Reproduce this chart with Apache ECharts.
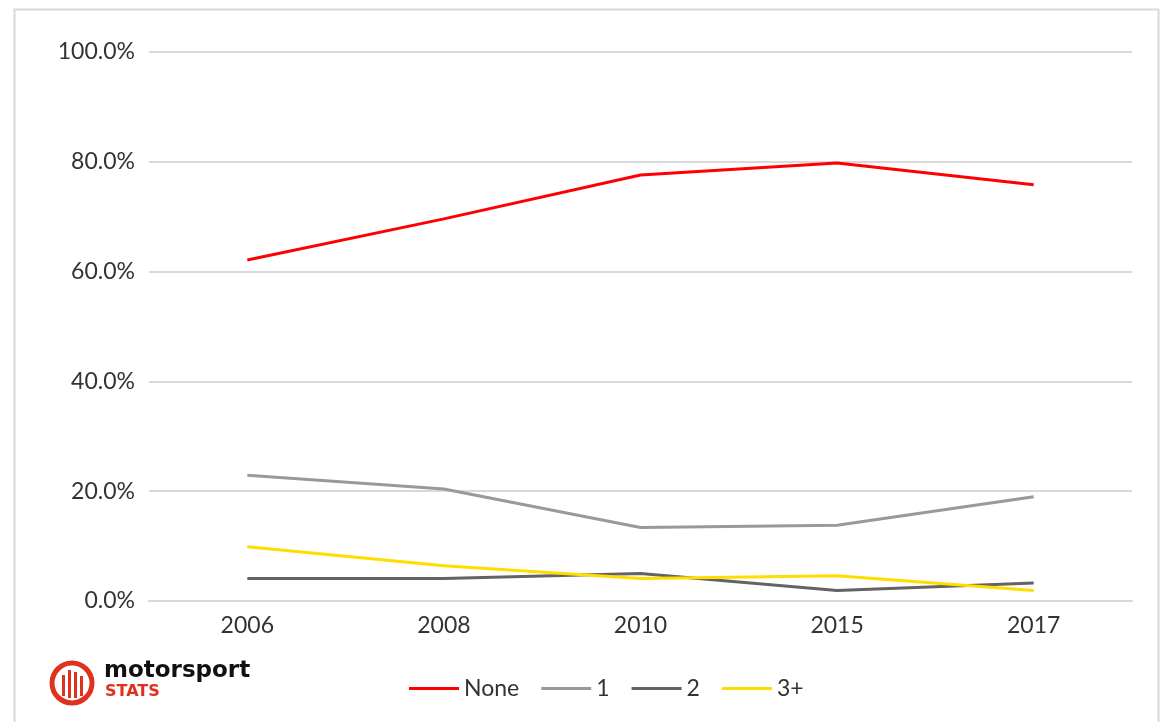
<!DOCTYPE html>
<html>
<head>
<meta charset="utf-8">
<script src="https://cdn.jsdelivr.net/npm/echarts@6/dist/echarts.min.js"></script>
<style>
html,body{margin:0;padding:0;background:#fff;}
#c{width:1163px;height:722px;}
</style>
</head>
<body>
<div id="c"></div>
<script>
const years = ['2006', '2008', '2010', '2015', '2017'];
const seriesNames = ['None', '1', '2', '3+'];
const noneVals = [62.1, 69.6, 77.6, 79.8, 75.8];
const oneVals = [22.9, 20.4, 13.4, 13.8, 19.0];
const twoVals = [4.1, 4.1, 5.0, 1.9, 3.3];
const threePlusVals = [9.9, 6.4, 4.1, 4.6, 1.9];
const colors = ['#ff0000', '#999999', '#636363', '#ffdd00'];

const FONT = 'Lato, sans-serif';
const chart = echarts.init(document.getElementById('c'), null, {renderer: 'canvas'});
const dataSets = [noneVals, oneVals, twoVals, threePlusVals];

chart.setOption({
  animation: false,
  backgroundColor: '#ffffff',
  color: colors,
  textStyle: {fontFamily: FONT},
  grid: {left: 149, right: 31, top: 52, bottom: 121, containLabel: false},
  legend: {
    data: seriesNames,
    left: 404, top: 672,
    itemWidth: 50, itemHeight: 3, itemGap: 22,
    icon: 'rect',
    textStyle: {fontSize: 23, color: '#333', fontFamily: FONT}
  },
  xAxis: {
    type: 'category',
    data: years,
    boundaryGap: true,
    axisLine: {show: true, lineStyle: {color: '#d9d9d9', width: 2}},
    axisTick: {show: false},
    axisLabel: {fontSize: 23, color: '#333', margin: 13, fontFamily: FONT}
  },
  yAxis: {
    type: 'value',
    min: 0, max: 100, interval: 20,
    axisLine: {show: false},
    axisTick: {show: false},
    splitLine: {lineStyle: {color: '#d9d9d9', width: 2}},
    axisLabel: {fontSize: 23, color: '#333', margin: 14, fontFamily: FONT,
      formatter: v => v.toFixed(1) + '%'}
  },
  series: seriesNames.map((n, i) => ({
    name: n,
    type: 'line',
    data: dataSets[i],
    symbol: 'none',
    lineStyle: {width: 3, color: colors[i]},
    itemStyle: {color: colors[i]}
  })),
  graphic: [
    {type: 'rect', shape: {x: 14.5, y: 9.5, width: 1144, height: 730}, style: {fill: null, stroke: '#d9d9d9', lineWidth: 2}, silent: true, z: -1},
    {type: 'circle', shape: {cx: 72, cy: 683, r: 20}, style: {fill: null, stroke: '#e0301e', lineWidth: 5}},
    {type: 'rect', shape: {x: 62, y: 675, width: 3, height: 21}, style: {fill: '#e0301e'}},
    {type: 'rect', shape: {x: 68, y: 670, width: 3, height: 28}, style: {fill: '#e0301e'}},
    {type: 'rect', shape: {x: 74, y: 672, width: 3, height: 26}, style: {fill: '#e0301e'}},
    {type: 'rect', shape: {x: 80, y: 676, width: 3, height: 20}, style: {fill: '#e0301e'}},
    {type: 'text', left: 104, top: 660, style: {text: 'motorsport', fontSize: 23, fontWeight: 'bold', fill: '#111', fontFamily: '"DejaVu Sans", sans-serif'}},
    {type: 'text', left: 105, top: 684, style: {text: 'STATS', fontSize: 16, fontWeight: 'bold', fill: '#e0301e', fontFamily: '"DejaVu Sans", sans-serif', letterSpacing: 3}}
  ]
});
</script>
</body>
</html>
